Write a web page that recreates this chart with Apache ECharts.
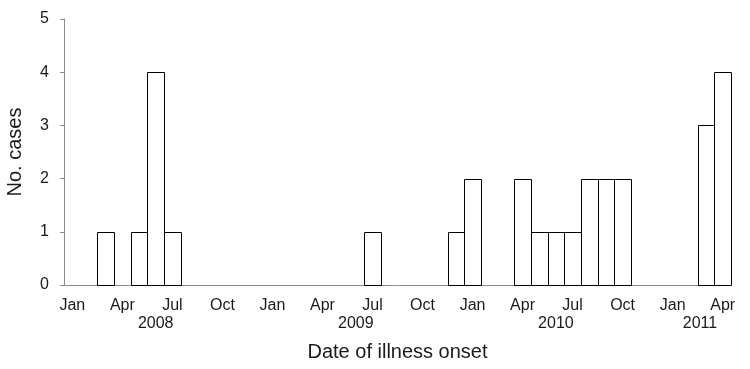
<!DOCTYPE html>
<html>
<head>
<meta charset="utf-8">
<script src="https://cdn.jsdelivr.net/npm/echarts@6/dist/echarts.min.js"></script>
<style>
  html, body { margin: 0; padding: 0; background: #ffffff; }
  #chart { width: 750px; height: 369px; }
</style>
</head>
<body>
<div id="chart"></div>
<script>
// Monthly categories, Jan 2008 – Apr 2011
const months = [
  'Jan 2008','Feb 2008','Mar 2008','Apr 2008','May 2008','Jun 2008','Jul 2008','Aug 2008','Sep 2008','Oct 2008','Nov 2008','Dec 2008',
  'Jan 2009','Feb 2009','Mar 2009','Apr 2009','May 2009','Jun 2009','Jul 2009','Aug 2009','Sep 2009','Oct 2009','Nov 2009','Dec 2009',
  'Jan 2010','Feb 2010','Mar 2010','Apr 2010','May 2010','Jun 2010','Jul 2010','Aug 2010','Sep 2010','Oct 2010','Nov 2010','Dec 2010',
  'Jan 2011','Feb 2011','Mar 2011','Apr 2011'
];
// Number of cases per month
const cases = [
  0,0,1,0,1,4,1,0,0,0,0,0,
  0,0,0,0,0,0,1,0,0,0,0,1,
  2,0,0,2,1,1,1,2,2,2,0,0,
  0,0,3,4
];
// Month tick labels shown on the axis
const monthTickLabels = ['Jan','Apr','Jul','Oct'];
// Year labels and the month category under which each is written
const yearLabels = ['2008','2009','2010','2011'];
const yearLabelAt = ['Jun 2008','Jun 2009','Jun 2010','Mar 2011'];

const textColor = '#1a1a1a';
const axisColor = '#8c8c8c';
const font = "'Liberation Sans', Arial, sans-serif";

const barData = [];
months.forEach(function (m, i) { if (cases[i] > 0) barData.push([m, cases[i]]); });

function renderBar(params, api) {
  const top = api.coord([api.value(0), api.value(1)]);
  const base = api.coord([api.value(0), 0]);
  const bw = api.size([1, 0])[0];
  const left = Math.round(top[0] - bw / 2) + 0.5;
  const right = Math.round(top[0] + bw / 2) + 0.5;
  const y1 = Math.round(top[1]) + 0.5;
  const y0 = Math.round(base[1]) + 0.5;
  return {
    type: 'rect',
    shape: { x: left, y: y1, width: right - left, height: y0 - y1 },
    style: { fill: '#ffffff', stroke: '#000000', lineWidth: 1 }
  };
}

const chart = echarts.init(document.getElementById('chart'), null, { renderer: 'canvas' });

const option = {
  backgroundColor: '#ffffff',
  animation: false,
  grid: { left: 64, right: 19, top: 19, bottom: 84, containLabel: false, outerBoundsMode: 'none' },
  xAxis: [
    {
      type: 'category',
      data: months,
      boundaryGap: true,
      axisLine: { show: true, lineStyle: { color: axisColor, width: 1 } },
      axisTick: { show: false },
      axisLabel: {
        interval: function (idx, v) { return monthTickLabels.indexOf(v.split(' ')[0]) >= 0; },
        formatter: function (v) { return v.split(' ')[0]; },
        color: textColor, fontSize: 16, fontFamily: font, margin: 13
      },
      name: 'Date of illness onset',
      nameLocation: 'middle',
      nameGap: 57,
      nameTextStyle: { color: textColor, fontSize: 20, fontFamily: font },
      splitLine: { show: false }
    },
    {
      type: 'category',
      data: months,
      position: 'bottom',
      offset: 18,
      boundaryGap: true,
      axisLine: { show: false },
      axisTick: { show: false },
      axisLabel: {
        interval: function (idx, v) { return yearLabelAt.indexOf(v) >= 0; },
        formatter: function (v) {
          const i = yearLabelAt.indexOf(v);
          return i === 3 ? '{s|' + yearLabels[i] + '}' : yearLabels[i];
        },
        rich: { s: { color: textColor, fontSize: 16, fontFamily: font, padding: [0, 12, 0, 0] } },
        color: textColor, fontSize: 16, fontFamily: font, margin: 13
      },
      splitLine: { show: false }
    }
  ],
  yAxis: {
    type: 'value',
    min: 0, max: 5, interval: 1,
    axisLine: { show: true, lineStyle: { color: axisColor, width: 1 } },
    axisTick: { show: true, length: 4, lineStyle: { color: axisColor } },
    axisLabel: { color: textColor, fontSize: 16, fontFamily: font, margin: 15 },
    splitLine: { show: false },
    name: 'No. cases',
    nameLocation: 'middle',
    nameGap: 39,
    nameTextStyle: { color: textColor, fontSize: 20, fontFamily: font }
  },
  series: [{
    type: 'custom',
    xAxisIndex: 0,
    renderItem: renderBar,
    encode: { x: 0, y: 1 },
    data: barData,
    silent: true,
    z: 1
  }]
};
chart.setOption(option);
</script>
</body>
</html>
